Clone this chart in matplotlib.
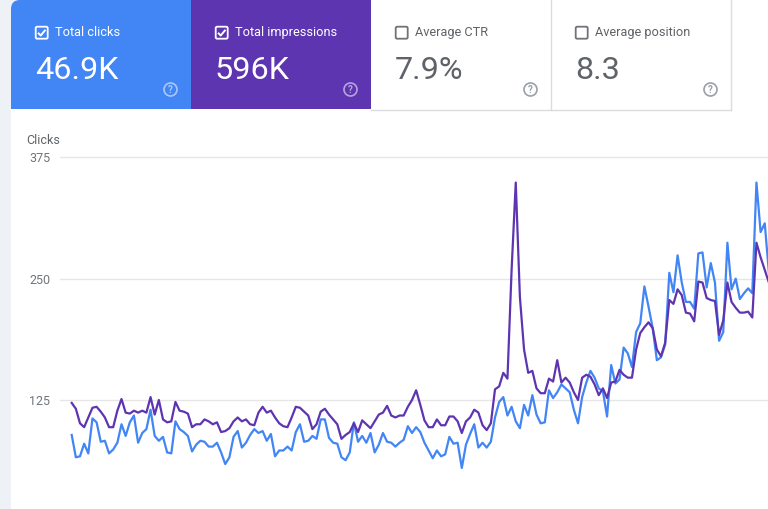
import matplotlib
matplotlib.use("Agg")
import matplotlib.pyplot as plt
from matplotlib.patches import Rectangle, FancyBboxPatch, Circle
import numpy as np

plt.rcParams['font.family'] = ['Roboto', 'DejaVu Sans']

# ---- data (daily values) ----
clicks = [
    89, 66, 67, 80, 70, 106, 102, 82, 83, 70, 74, 81, 100, 88, 102, 109, 81, 91, 95, 115,
    88, 83, 87, 71, 70, 103, 95, 92, 88, 72, 79, 83, 82, 77, 77, 81, 71, 59, 66, 87,
    93, 76, 81, 89, 95, 91,
    93, 83, 90, 67, 73, 73, 77, 73, 92, 100, 82, 83, 88, 85, 105, 105, 86, 81, 80, 66,
    63, 71, 102, 82, 88, 81, 91, 71, 79, 91, 82, 81, 77, 81, 84, 98, 91, 97, 92, 81,
    73, 65, 73, 67, 69, 87, 80, 81, 55, 79, 90, 100, 76, 81, 76, 82, 107, 123, 128, 109,
    118,
    103, 96, 120, 109, 130, 110, 101, 102, 135, 127, 133, 141, 137, 133, 115, 101, 128, 143, 155, 148,
    137, 134, 108, 161, 142, 146, 179, 173, 159, 195, 204, 242, 221, 199, 166, 169, 182, 256, 236, 274,
    246, 226, 226, 219, 276, 277, 241, 266, 246, 186, 195, 287, 239, 250, 229, 235, 240, 235, 349, 298,
    307, 256,
]

impressions = [
    1220, 1160, 1010, 970, 1070, 1170, 1180, 1130, 1070, 970, 970, 1140, 1260, 1120, 1110, 1140, 1120, 1140, 1120, 1280,
    1100, 1250, 1050, 1020, 1030, 1230, 1140, 1130, 1110, 970, 1000, 1000, 1050, 1030, 1000, 1020, 920, 930, 960, 1030,
    1070, 1030, 1050, 1000, 990, 1120,
    1180, 1120, 1140, 1070, 1010, 980, 970, 1070, 1180, 1170, 1130, 1090, 950, 1000, 1130, 1160, 1100, 1050, 1000, 850,
    890, 920, 1010, 920, 1040, 1000, 960, 1030, 1100, 1120, 1190, 1090, 1070, 1090, 1090, 1180, 1250, 1350, 1200, 1040,
    970, 970, 1050, 990, 990, 1080, 1080, 1030, 910, 1030, 1070, 1150, 1120, 990, 940, 1010, 1360, 1390, 1530, 1470,
    2590,
    3490, 2310, 1770, 1530, 1550, 1370, 1320, 1320, 1470, 1440, 1660, 1430, 1480, 1430, 1330, 1250, 1480, 1510, 1490, 1410,
    1300, 1370, 1270, 1430, 1440, 1560, 1510, 1480, 1480, 1770, 1940, 2000, 2050, 1990, 1770, 1700, 1840, 2280, 2240, 2390,
    2330, 2150, 2140, 2060, 2470, 2460, 2300, 2280, 2270, 1920, 2070, 2460, 2260, 2200, 2150, 2150, 2160, 2100, 2870, 2720,
    2590, 2460,
]

days = np.arange(len(clicks))

card_labels = ["Total clicks", "Total impressions", "Average CTR", "Average position"]
card_values = ["46.9K", "596K", "7.9%", "8.3"]
yticks = [125, 250, 375]

BLUE = "#4285f4"
PURPLE = "#5e35b1"
GRAY_TXT = "#5f6368"

W, H = 768, 509
fig = plt.figure(figsize=(W / 100, H / 100), dpi=100, facecolor="white")

# decoration layer in pixel coordinates
deco = fig.add_axes([0, 0, 1, 1], zorder=0)
deco.set_xlim(0, W)
deco.set_ylim(H, 0)
deco.axis("off")

GRAY_BG = "#eef1f6"
deco.add_patch(Rectangle((0, 0), 11, H, facecolor=GRAY_BG, edgecolor="none"))
deco.add_patch(Rectangle((11, 0), 10, 10, facecolor=GRAY_BG, edgecolor="none"))

# cards
card_x = [11, 191, 371, 551]
card_w = 180
card_h = 109
deco.add_patch(FancyBboxPatch((11, 0), card_w, card_h, boxstyle="round,pad=0,rounding_size=9",
                              facecolor=BLUE, edgecolor="none", mutation_aspect=1))
deco.add_patch(Rectangle((11, 9), card_w, card_h - 9, facecolor=BLUE, edgecolor="none"))
deco.add_patch(Rectangle((20, 0), card_w - 9, card_h, facecolor=BLUE, edgecolor="none"))
deco.add_patch(Rectangle((191, 0), card_w, card_h, facecolor=PURPLE, edgecolor="none"))
# borders of white cards
deco.plot([371, 731], [109.5, 109.5], color="#dadce0", lw=1)
deco.plot([550.5, 550.5], [0, 109.5], color="#dadce0", lw=1)
deco.plot([730.5, 730.5], [0, 109.5], color="#dadce0", lw=1)

for i, (lab, val) in enumerate(zip(card_labels, card_values)):
    x0 = card_x[i] + 24.7
    active = i < 2
    col = "white" if active else GRAY_TXT
    deco.add_patch(FancyBboxPatch((x0, 26.7), 12, 12, boxstyle="round,pad=0,rounding_size=1.5",
                                  facecolor="none", edgecolor=col if active else "#6f7377", lw=1.3))
    if active:
        deco.plot([x0 + 2.3, x0 + 5.0, x0 + 9.8], [32.8, 35.5, 29.8], color="white", lw=1.4,
                  solid_capstyle="butt")
    deco.text(x0 + 19, 36.3, lab, fontsize=9.2, color=col, ha="left", va="baseline")
    deco.text(x0 - 0.8, 78.8, val, fontsize=23.3, color=col, ha="left", va="baseline")
    cx = card_x[i] + 159.5
    qcol = (1, 1, 1, 0.55) if active else "#9aa0a6"
    deco.add_patch(Circle((cx, 89.5), 6.5, facecolor="none", edgecolor=qcol, lw=1.2))
    deco.text(cx, 89.8, "?", fontsize=7, color=qcol, ha="center", va="center", fontweight="bold")

deco.text(26, 140, "Clicks", fontsize=9, color=GRAY_TXT, ha="left", va="center")

# ---- chart ----
px_per_day = 4.15
left_px, top_px = 60, 130
x_first = 71.7
xmin = -(x_first - left_px) / px_per_day
xmax = xmin + (W - left_px) / px_per_day
px_per_unit = 0.9708
ymin = 125 - (H - 400) / px_per_unit
ymax = 375 + (157.3 - top_px) / px_per_unit

ax = fig.add_axes([left_px / W, 0, 1 - left_px / W, 1 - top_px / H], zorder=1)
ax.set_facecolor("none")
ax.plot(days, clicks, color=BLUE, lw=1.6, solid_joinstyle="round")
ax.set_xlim(xmin, xmax)
ax.set_ylim(ymin, ymax)
ax.set_yticks(yticks)
ax.set_yticklabels([str(t) for t in yticks])
ax.tick_params(axis="y", length=0, pad=7, labelsize=9, labelcolor="#70757a")
ax.set_xticks([])
ax.grid(axis="y", color="#e6e6e6", lw=1)
ax.set_axisbelow(True)
for s in ax.spines.values():
    s.set_visible(False)

ax2 = ax.twinx()
ax2.plot(days, impressions, color=PURPLE, lw=1.6, solid_joinstyle="round")
ax2.set_ylim(ymin * 10, ymax * 10)
ax2.set_yticks([])
for s in ax2.spines.values():
    s.set_visible(False)

fig.savefig("out.png", dpi=100, facecolor="white")
